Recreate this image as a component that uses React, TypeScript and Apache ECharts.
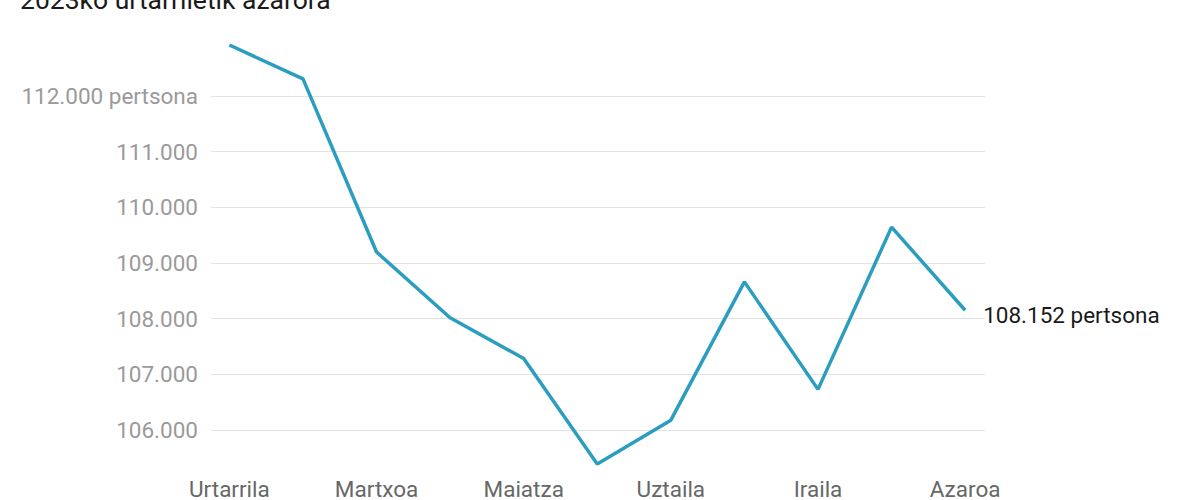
import React, { useEffect, useRef } from "react";
import * as echarts from "echarts";

const title = "2023ko urtarriletik azarora";
const months = [
  "Urtarrila", "Otsaila", "Martxoa", "Apirila", "Maiatza", "Ekaina",
  "Uztaila", "Abuztua", "Iraila", "Urria", "Azaroa",
];
const values = [112911, 112304, 109196, 108018, 107286, 105393, 106179, 108661, 106732, 109643, 108152];
const unit = "pertsona";
const shownMonthIdx = [0, 2, 4, 6, 8, 10];

function fmt(n: number): string {
  const s = Math.round(n).toString();
  return s.replace(/\B(?=(\d{3})+(?!\d))/g, ".");
}

export default function App() {
  const ref = useRef<HTMLDivElement>(null);
  useEffect(() => {
    if (!ref.current) return;
    const chart = echarts.init(ref.current, null, { renderer: "svg" });
    const font = "Roboto, 'Noto Sans', sans-serif";
    const minV = Math.min(...values);
    const maxV = Math.max(...values);
    chart.setOption({
      animation: false,
      backgroundColor: "#ffffff",
      textStyle: { fontFamily: font },
      title: {
        text: title,
        left: 15,
        top: -19,
        textStyle: { fontSize: 26.5, fontWeight: "normal", color: "#1a1a1a", fontFamily: font },
      },
      grid: { left: 211, right: 215, top: 45, bottom: 34, containLabel: false },
      xAxis: {
        type: "value",
        min: -0.25,
        max: 10.27,
        axisLine: { show: false },
        axisTick: { show: false },
        splitLine: { show: false },
        axisLabel: {
          customValues: shownMonthIdx,
          formatter: (v: number) => months[Math.round(v)] ?? "",
          color: "#676767",
          fontSize: 22.5,
          margin: 13,
          fontFamily: font,
        },
      },
      yAxis: {
        type: "value",
        min: minV,
        max: maxV,
        splitNumber: 7,
        axisLine: { show: false },
        axisTick: { show: false },
        splitLine: {
          show: true,
          showMinLine: false,
          showMaxLine: false,
          lineStyle: { color: "#e3e3e3", width: 1 },
        },
        axisLabel: {
          showMinLabel: false,
          showMaxLabel: false,
          color: "#9a9a9a",
          fontSize: 22.5,
          margin: 13,
          fontFamily: font,
          formatter: (v: number) => {
            if (v % 1000 !== 0) return "";
            return v === 112000 ? `${fmt(v)} ${unit}` : fmt(v);
          },
        },
      },
      series: [
        {
          type: "line",
          data: values.map((v, i) => [i, v]),
          showSymbol: false,
          symbol: "none",
          lineStyle: { color: "#2b9ec0", width: 3.5 },
          itemStyle: { color: "#2b9ec0" },
          endLabel: {
            show: true,
            formatter: (p: any) => `${fmt(p.value[1])} ${unit}`,
            color: "#1a1a1a",
            fontSize: 22.5,
            distance: 18,
            offset: [0, 5],
            fontFamily: font,
          },
        },
      ],
    });
    return () => chart.dispose();
  }, []);
  return (
    <div
      ref={ref}
      style={{ position: "fixed", left: 0, top: 0, width: 1200, height: 500 }}
    />
  );
}
